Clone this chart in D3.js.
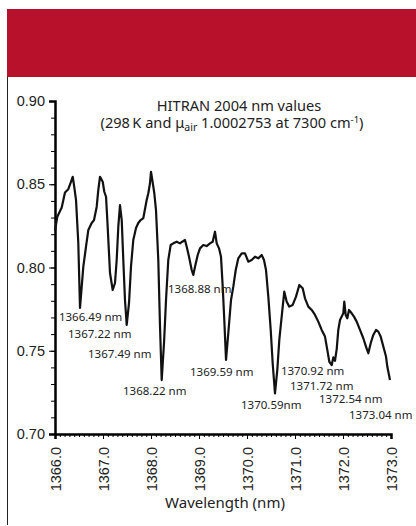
<!DOCTYPE html>
<html>
<head>
<meta charset="utf-8">
<script src="https://cdn.jsdelivr.net/npm/d3@7"></script>
<style>
  body { margin: 0; background: #fff; }
  svg { display: block; font-family: "Noto Sans", "Open Sans", sans-serif; }
</style>
</head>
<body>
<svg width="416" height="526"></svg>
<script>
// Measured spectrum (wavelength in nm, signal)
var wavelength = [
  1366.000, 1366.048, 1366.140, 1366.208, 1366.277, 1366.327, 1366.369, 1366.396, 1366.438, 1366.485,
  1366.521, 1366.590, 1366.646, 1366.694, 1366.765, 1366.813, 1366.869, 1366.902, 1366.938, 1366.994,
  1367.027, 1367.063, 1367.090, 1367.146, 1367.202, 1367.250, 1367.285, 1367.319, 1367.354, 1367.390,
  1367.423, 1367.458, 1367.494, 1367.542, 1367.583, 1367.631, 1367.688, 1367.735, 1367.785, 1367.840,
  1367.910, 1367.944, 1367.979, 1368.000, 1368.027, 1368.069, 1368.104, 1368.152, 1368.188, 1368.223,
  1368.271, 1368.313, 1368.360, 1368.410, 1368.465, 1368.535, 1368.604, 1368.652, 1368.708, 1368.744,
  1368.792, 1368.848, 1368.881, 1368.917, 1368.973, 1369.021, 1369.090, 1369.160, 1369.229, 1369.285,
  1369.333, 1369.369, 1369.417, 1369.458, 1369.494, 1369.527, 1369.563, 1369.610, 1369.667, 1369.715,
  1369.765, 1369.819, 1369.890, 1369.958, 1370.027, 1370.098, 1370.167, 1370.235, 1370.306, 1370.354,
  1370.396, 1370.444, 1370.494, 1370.535, 1370.583, 1370.631, 1370.673, 1370.708, 1370.744, 1370.777,
  1370.827, 1370.881, 1370.952, 1371.021, 1371.090, 1371.160, 1371.208, 1371.277, 1371.348, 1371.417,
  1371.485, 1371.556, 1371.625, 1371.673, 1371.715, 1371.765, 1371.798, 1371.833, 1371.869, 1371.902,
  1371.938, 1371.973, 1372.006, 1372.027, 1372.056, 1372.090, 1372.125, 1372.181, 1372.229, 1372.285,
  1372.354, 1372.423, 1372.479, 1372.527, 1372.577, 1372.631, 1372.688, 1372.735, 1372.785, 1372.840,
  1372.896, 1372.923, 1372.979
];
var signal = [
  0.8220, 0.8305, 0.8360, 0.8450, 0.8470, 0.8510, 0.8545, 0.8495, 0.8405, 0.8150,
  0.7757, 0.8005, 0.8125, 0.8225, 0.8267, 0.8285, 0.8365, 0.8466, 0.8545, 0.8515,
  0.8455, 0.8425, 0.8285, 0.7967, 0.7865, 0.7907, 0.8045, 0.8245, 0.8375, 0.8285,
  0.8045, 0.7805, 0.7655, 0.7787, 0.8005, 0.8165, 0.8237, 0.8267, 0.8285, 0.8297,
  0.8405, 0.8446, 0.8506, 0.8575, 0.8526, 0.8446, 0.8345, 0.8045, 0.7644, 0.7324,
  0.7545, 0.7805, 0.8045, 0.8135, 0.8145, 0.8155, 0.8145, 0.8155, 0.8165, 0.8125,
  0.8065, 0.7985, 0.7955, 0.8005, 0.8075, 0.8115, 0.8135, 0.8129, 0.8145, 0.8155,
  0.8215, 0.8145, 0.8115, 0.8065, 0.7885, 0.7685, 0.7445, 0.7605, 0.7805, 0.7885,
  0.7985, 0.8055, 0.8085, 0.8085, 0.8035, 0.8045, 0.8065, 0.8055, 0.8075, 0.8045,
  0.7985, 0.7825, 0.7625, 0.7425, 0.7244, 0.7384, 0.7565, 0.7665, 0.7765, 0.7855,
  0.7795, 0.7765, 0.7775, 0.7825, 0.7895, 0.7875, 0.7815, 0.7765, 0.7745, 0.7715,
  0.7675, 0.7625, 0.7585, 0.7505, 0.7434, 0.7414, 0.7460, 0.7440, 0.7510, 0.7625,
  0.7685, 0.7705, 0.7725, 0.7795, 0.7715, 0.7695, 0.7745, 0.7725, 0.7705, 0.7675,
  0.7625, 0.7575, 0.7525, 0.7485, 0.7545, 0.7595, 0.7625, 0.7615, 0.7585, 0.7525,
  0.7465, 0.7405, 0.7324
];

// HITRAN line labels and where their text starts (data units)
var lineLabels = ["1366.49 nm", "1367.22 nm", "1367.49 nm", "1368.22 nm", "1368.88 nm", "1369.59 nm",
                  "1370.59nm", "1370.92 nm", "1371.72 nm", "1372.54 nm", "1373.04 nm"];
var labelX = [1366.083, 1366.271, 1366.688, 1367.417, 1368.354, 1368.813,
              1369.875, 1370.708, 1370.896, 1371.500, 1372.125];
var labelY = [0.7679, 0.7577, 0.7458, 0.7234, 0.7849, 0.7350,
              0.7152, 0.7356, 0.7266, 0.7186, 0.7088];

var xTicks = [1366, 1367, 1368, 1369, 1370, 1371, 1372, 1373];
var yTicks = [0.70, 0.75, 0.80, 0.85, 0.90];

var svg = d3.select("svg");

// Header band and page rule
svg.append("rect").attr("x", 7).attr("y", 9).attr("width", 409).attr("height", 68).attr("fill", "#b7112b");
svg.append("line").attr("x1", 7.5).attr("x2", 7.5).attr("y1", 77).attr("y2", 525)
  .attr("stroke", "#222").attr("stroke-width", 1);

var x = d3.scaleLinear().domain([1366, 1373]).range([55, 391]);
var y = d3.scaleLinear().domain([0.70, 0.90]).range([434, 101]);

// Y axis
var yAxis = svg.append("g").attr("transform", "translate(55,0)")
  .call(d3.axisLeft(y).tickValues(yTicks).tickFormat(d3.format(".2f")).tickSize(6).tickPadding(4));
svg.append("g").attr("transform", "translate(55,0)")
  .call(d3.axisLeft(y).tickValues(d3.range(70, 91).map(function(d) { return d / 100; }))
    .tickFormat("").tickSize(4))
  .select(".domain").remove();
yAxis.select(".domain").attr("stroke-width", 2.5);
yAxis.selectAll("text").attr("font-size", 14.5).attr("fill", "#222");

// X axis
var xAxis = svg.append("g").attr("transform", "translate(0,434)")
  .call(d3.axisBottom(x).tickValues(xTicks).tickFormat(d3.format(".1f")).tickSize(5));
svg.append("g").attr("transform", "translate(0,434)")
  .call(d3.axisBottom(x).tickValues(d3.range(13660, 13731).map(function(d) { return d / 10; }))
    .tickFormat("").tickSize(3))
  .select(".domain").remove();
xAxis.select(".domain").attr("stroke-width", 2.5);
xAxis.selectAll("text")
  .attr("font-size", 14.5).attr("fill", "#222")
  .attr("transform", "rotate(-90)")
  .attr("text-anchor", "end")
  .attr("x", -13).attr("y", 0).attr("dy", "0.35em");

svg.append("text").attr("x", 225).attr("y", 508).attr("text-anchor", "middle")
  .attr("font-size", 15).attr("fill", "#222").text("Wavelength (nm)");

// Spectrum
var pts = wavelength.map(function(w, i) { return [w, signal[i]]; });
svg.append("path").datum(pts)
  .attr("fill", "none").attr("stroke", "#111").attr("stroke-width", 2.2)
  .attr("stroke-linejoin", "round")
  .attr("d", d3.line().x(function(d) { return x(d[0]); }).y(function(d) { return y(d[1]); }));

// Line labels
svg.append("g").selectAll("text").data(lineLabels).enter().append("text")
  .attr("x", function(d, i) { return x(labelX[i]); })
  .attr("y", function(d, i) { return y(labelY[i]); })
  .attr("font-size", 11.5).attr("fill", "#222")
  .text(function(d) { return d; });

// Title
svg.append("text").attr("x", 239).attr("y", 111).attr("text-anchor", "middle")
  .attr("font-size", 14.6).attr("fill", "#222").text("HITRAN 2004 nm values");
var t2 = svg.append("text").attr("x", 232).attr("y", 128).attr("text-anchor", "middle")
  .attr("font-size", 14.6).attr("fill", "#222");
t2.append("tspan").text("(298\u2009K and \u03bc");
t2.append("tspan").attr("font-size", 10.5).attr("dy", 3).text("air");
t2.append("tspan").attr("dy", -3).text(" 1.0002753 at 7300 cm");
t2.append("tspan").attr("font-size", 9.5).attr("dy", -5).text("-1");
t2.append("tspan").attr("dy", 5).text(")");
</script>
</body>
</html>
